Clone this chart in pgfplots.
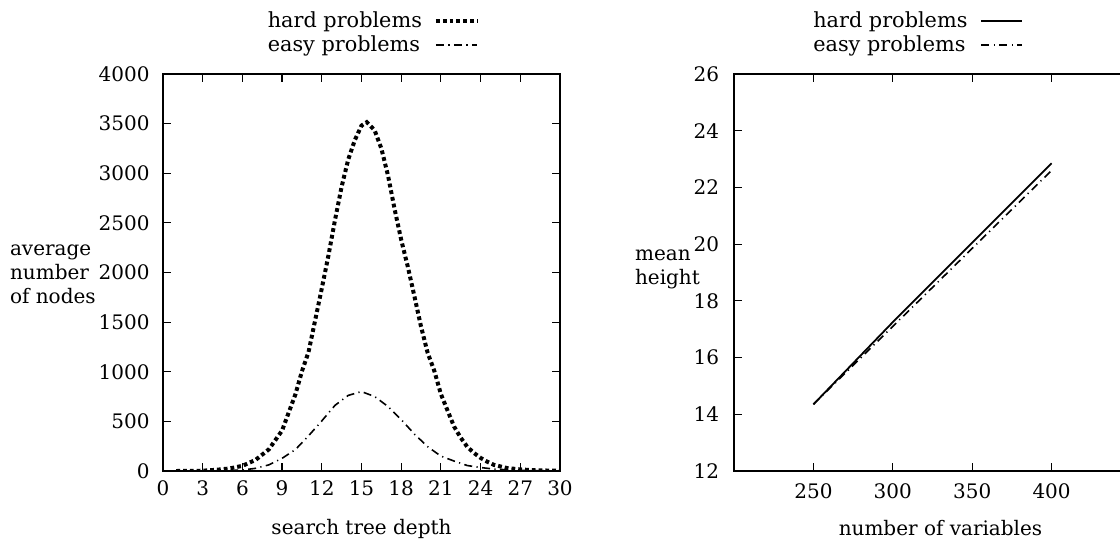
\documentclass[border=0pt]{standalone}
\usepackage{fontspec}
\setmainfont{DejaVu Serif}
\usepackage{pgfplots}
\pgfplotsset{compat=1.18}

\pgfplotsset{
  gp/.style={
    scale only axis, width=198.5pt, height=198.5pt,
    axis line style={line width=0.9pt},
    every tick/.style={line width=0.6pt, black},
    major tick length=4pt,
    tick align=inside,
    xtick pos=both, ytick pos=both,
    /pgf/number format/assume math mode=true,
    /pgf/number format/set thousands separator={},
    ticklabel style={font=\fontsize{10}{12}\selectfont},
    xticklabel style={yshift=-1.2pt},
    yticklabel style={xshift=-3.2pt},
    label style={font=\fontsize{9.3}{9.3}\selectfont},
    every axis x label/.style={at={(axis description cs:0.5,0)}, anchor=center, yshift=-28.8pt},
    legend plot pos=right,
    legend cell align=left,
    legend style={draw=none, fill=none, font=\fontsize{10.4}{11}\selectfont,
      row sep=-1.5pt},
    legend image code/.code={\path[draw=none, fill=none] (0pt,-2pt) rectangle (25.5pt,2pt);
      \draw[##1] (5pt,0pt) -- (25.5pt,0pt);},
  },
  hard/.style={black, line width=2pt, dash pattern=on 1.9pt off 1.5pt},
  easy/.style={black, line width=0.8pt, dash pattern=on 4pt off 2.2pt on 0.6pt off 2.2pt},
}

\begin{document}
\begin{tikzpicture}
\begin{axis}[gp,
  at={(0pt,0pt)}, anchor=south west,
  xmin=0, xmax=30, ymin=0, ymax=4000,
  xtick={0,3,...,30},
  ytick={0,500,...,4000},
  xlabel={search tree depth},
  every axis y label/.style={at={(axis description cs:0,0.5)}, anchor=west, xshift=-80pt, yshift=-1pt, align=left},
  ylabel={average\\number\\of nodes},
  legend style={at={(axis description cs:0.812,1.178)}, anchor=north east},
]
\addplot[hard] coordinates {
  (1,0) (2,1) (3,3) (4,12) (5,25) (6,52) (7,112) (8,218) (9,408)
  (10,770) (10.5,1005) (11,1200) (11.5,1520) (12,1840) (12.5,2170)
  (13,2530) (13.5,2865) (14,3140) (14.5,3335) (15,3480) (15.4,3515)
  (15.8,3460) (16,3430) (16.5,3250) (17,2980) (17.5,2640) (18,2330)
  (18.5,2058) (19,1760) (19.5,1454) (20,1190) (20.5,1010) (21,775)
  (21.5,610) (22,447) (22.5,335) (23,242) (23.5,182) (24,132)
  (24.5,94) (25,62) (26,30) (27,16) (28,8) (29,5) (30,3)};
\addlegendentry{hard problems}
\addplot[easy] coordinates {
  (1,0) (2,0) (3,1) (4,2) (5,5) (6,10) (7,27) (8,62) (9,128)
  (10,215) (11,355) (12,505) (13,662) (14,762) (15,800) (16,750)
  (17,650) (18,518) (19,372) (20,245) (21,150) (22,100) (23,55)
  (24,35) (25,20) (26,12) (27,6) (28,3) (29,2) (30,1)};
\addlegendentry{easy problems}
\end{axis}

\begin{axis}[gp,
  at={(285.5pt,0pt)}, anchor=south west,
  xmin=200, xmax=450, ymin=12, ymax=26,
  xtick={250,300,350,400},
  ytick={12,14,...,26},
  yticklabel style={xshift=-0.75pt},
  xticklabel style={yshift=-1.8pt},
  xlabel={number of variables},
  every axis x label/.style={at={(axis description cs:0.5,0)}, anchor=center, yshift=-28.5pt, xshift=4pt},
  every axis y label/.style={at={(axis description cs:0,0.5)}, anchor=west, xshift=-53pt, yshift=1.5pt, align=left},
  ylabel={mean\\height},
  legend style={at={(axis description cs:0.745,1.178)}, anchor=north east},
]
\addplot[black, line width=0.9pt] coordinates {
  (250,14.35) (300,17.25) (350,20.05) (400,22.85)};
\addlegendentry{hard problems}
\addplot[easy] coordinates {
  (250,14.35) (300,17.10) (350,19.85) (400,22.60)};
\addlegendentry{easy problems}
\end{axis}

\pgfresetboundingbox
\path[use as bounding box] (-81.5pt,-33.5pt) rectangle (478.5pt,235.5pt);
\end{tikzpicture}
\end{document}
